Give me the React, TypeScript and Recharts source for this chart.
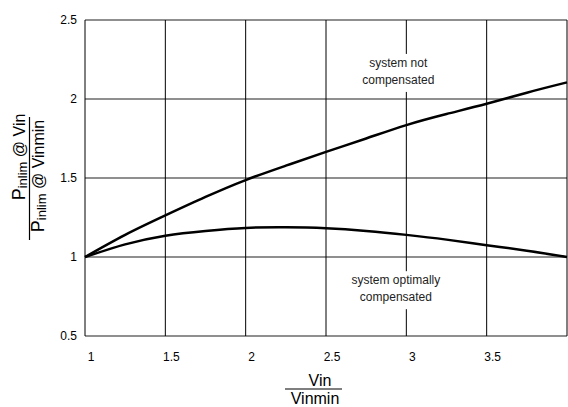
import { LineChart, Line, XAxis, YAxis, CartesianGrid, ReferenceDot } from "recharts"

const ratio = [1, 1.25, 1.5, 1.75, 2, 2.25, 2.5, 2.75, 3, 3.25, 3.5, 3.75, 4]
const notCompensated = [1, 1.14, 1.263, 1.38, 1.487, 1.578, 1.665, 1.75, 1.835, 1.905, 1.97, 2.04, 2.105]
const optimallyCompensated = [1, 1.08, 1.135, 1.165, 1.184, 1.188, 1.182, 1.165, 1.14, 1.11, 1.075, 1.04, 1]

const xTicks = [1, 1.5, 2, 2.5, 3, 3.5, 4]
const yTicks = [0.5, 1, 1.5, 2, 2.5]

const notes = [
    { x: 2.95, y: 2.165, lines: ["system not", "compensated"] },
    { x: 2.935, y: 0.79, lines: ["system optimally", "compensated"] },
]

const data = ratio.map((r, i) => ({
    r,
    notComp: notCompensated[i],
    optComp: optimallyCompensated[i],
}))

const FONT = "'Liberation Sans', Arial, sans-serif"

// annotation with a white box so the grid lines stop behind it
function Note({ cx, cy, lines }: { cx: number; cy: number; lines: string[] }) {
    return (
        <g>
            <rect x={cx - 46} y={cy - 19} width={92} height={38} fill="#fff" />
            {lines.map((t, i) => (
                <text key={i} x={cx} y={cy - 6 + i * 17} textAnchor="middle" fontSize={12} fontFamily={FONT} fill="#222">
                    {t}
                </text>
            ))}
        </g>
    )
}

function YFraction(props: any) {
    const vb = props.viewBox
    const num = { x: vb.x + 25, y: vb.y + 137 }
    const den = { x: vb.x + 44, y: vb.y + 156 }
    return (
        <g fontFamily={FONT} fill="#000">
            <g transform={`translate(${num.x}, ${num.y}) rotate(-90)`}>
                <text x={0} y={0} textAnchor="middle">
                    <tspan fontSize={18}>P</tspan>
                    <tspan fontSize={13} dy={2}>inlim</tspan>
                    <tspan fontSize={16} dy={-2}> @ Vin</tspan>
                </text>
            </g>
            <line x1={vb.x + 29.5} x2={vb.x + 29.5} y1={vb.y + 97} y2={vb.y + 220} stroke="#000" strokeWidth={1.2} />
            <g transform={`translate(${den.x}, ${den.y}) rotate(-90)`}>
                <text x={0} y={0} textAnchor="middle">
                    <tspan fontSize={18}>P</tspan>
                    <tspan fontSize={13} dy={2}>inlim</tspan>
                    <tspan fontSize={16} dy={-2}> @ Vinmin</tspan>
                </text>
            </g>
        </g>
    )
}

function XFraction(props: any) {
    const vb = props.viewBox
    return (
        <g fontFamily={FONT} fill="#000" fontSize={16}>
            <text x={vb.x + 235} y={vb.y + 50} textAnchor="middle">Vin</text>
            <line x1={vb.x + 200} x2={vb.x + 257} y1={vb.y + 53} y2={vb.y + 53} stroke="#000" strokeWidth={1.2} />
            <text x={vb.x + 230} y={vb.y + 68} textAnchor="middle">Vinmin</text>
        </g>
    )
}

export default function App() {
    return (
        <div style={{ position: "absolute", left: 0, top: 0, width: 568, height: 407, background: "#fff" }}>
            <LineChart width={568} height={407} data={data} margin={{ top: 20, right: 1, bottom: 41, left: 0 }}>
                <CartesianGrid vertical={false} stroke="#6a6a6a" strokeWidth={1.5} />
                <CartesianGrid horizontal={false} stroke="#000" strokeWidth={1} />
                <XAxis
                    dataKey="r"
                    type="number"
                    domain={[1, 4]}
                    ticks={xTicks}
                    interval={0}
                    axisLine={false}
                    tickLine={false}
                    tickMargin={10}
                    height={30}
                    tick={{ fontSize: 12, fill: "#000", fontFamily: FONT, dx: 6 }}
                    tickFormatter={(v: number) => (v === 4 ? "" : String(v))}
                    label={<XFraction />}
                />
                <YAxis
                    type="number"
                    domain={[0.5, 2.5]}
                    ticks={yTicks}
                    interval={0}
                    width={85}
                    axisLine={false}
                    tickLine={false}
                    tick={{ fontSize: 12, fill: "#000", fontFamily: FONT }}
                    label={<YFraction />}
                />
                <Line type="natural" dataKey="notComp" stroke="#000" strokeWidth={2.5} dot={false} isAnimationActive={false} />
                <Line type="natural" dataKey="optComp" stroke="#000" strokeWidth={2.5} dot={false} isAnimationActive={false} />
                {notes.map((n, i) => (
                    <ReferenceDot
                        key={i}
                        x={n.x}
                        y={n.y}
                        r={0}
                        shape={(p: any) => <Note cx={p.cx} cy={p.cy} lines={n.lines} />}
                    />
                ))}
            </LineChart>
        </div>
    )
}
